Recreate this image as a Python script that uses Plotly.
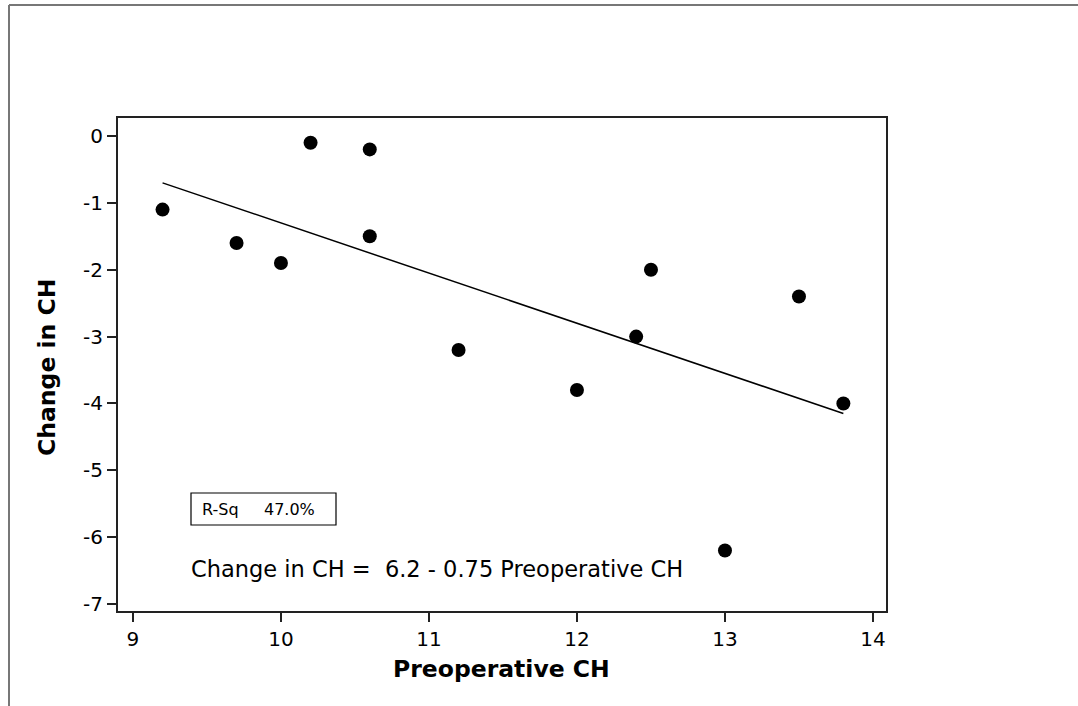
import plotly.graph_objects as go

# Data
pre_ch = [9.2, 9.7, 10.0, 10.2, 10.6, 10.6, 11.2, 12.0, 12.4, 12.5, 13.0, 13.5, 13.8]
change_ch = [-1.1, -1.6, -1.9, -0.1, -0.2, -1.5, -3.2, -3.8, -3.0, -2.0, -6.2, -2.4, -4.0]
fit_x = [9.2, 13.8]
fit_y = [-0.7, -4.15]
x_ticks = [9, 10, 11, 12, 13, 14]
y_ticks = [0, -1, -2, -3, -4, -5, -6, -7]
y_tick_labels = ["0", "-1", "-2", "-3", "-4", "-5", "-6", "-7"]

W, H = 1078, 706
L, R, T, B = 118, 192, 118, 95
pw, ph = W - L - R, H - T - B

def px(xp):
    return (xp - L) / pw

def py(yp):
    return 1 - (yp - T) / ph

fig = go.Figure()
fig.add_trace(go.Scatter(x=fit_x, y=fit_y, mode="lines",
                         line=dict(color="black", width=1.5), showlegend=False))
fig.add_trace(go.Scatter(x=pre_ch, y=change_ch, mode="markers",
                         marker=dict(color="black", size=14), showlegend=False))

tickfont = dict(family="DejaVu Sans", size=20, color="black")
fig.update_xaxes(range=[8.899, 14.088], tickvals=x_ticks, ticks="outside", ticklen=9,
                 tickwidth=1.5, tickcolor="#222", showline=True, linecolor="#222",
                 linewidth=2, mirror=True, showgrid=False, zeroline=False,
                 tickfont=tickfont)
fig.update_yaxes(range=[-7.105, 0.27], tickvals=y_ticks, ticktext=y_tick_labels,
                 ticks="outside", ticklen=9,
                 tickwidth=1.5, tickcolor="#222", showline=True, linecolor="#222",
                 linewidth=2, mirror=True, showgrid=False, zeroline=False,
                 tickfont=tickfont)

shapes = [
    # outer frame (top and left)
    dict(type="line", xref="paper", yref="paper", x0=px(9), y0=py(5), x1=px(W + 5), y1=py(5),
         line=dict(color="#777", width=2)),
    dict(type="line", xref="paper", yref="paper", x0=px(9), y0=py(5), x1=px(9), y1=py(H + 5),
         line=dict(color="#777", width=2)),
    # R-Sq box
    dict(type="rect", xref="paper", yref="paper", x0=px(191), x1=px(336), y0=py(525), y1=py(493),
         line=dict(color="black", width=1.2)),
]

annotations = [
    dict(text="R-Sq&nbsp;&nbsp;&nbsp;&nbsp;&nbsp;47.0%", xref="paper", yref="paper", x=px(200), y=py(509),
         xanchor="left", yanchor="middle", showarrow=False,
         font=dict(family="DejaVu Sans", size=16, color="black")),
    dict(text="Change in CH =&nbsp;&nbsp;6.2 - 0.75 Preoperative CH", xref="paper", yref="paper",
         x=px(189), y=py(569), xanchor="left", yanchor="middle", showarrow=False,
         font=dict(family="DejaVu Sans", size=22.5, color="black")),
    dict(text="<b>Preoperative CH</b>", xref="paper", yref="paper", x=px(501), y=py(669),
         xanchor="center", yanchor="middle", showarrow=False,
         font=dict(family="DejaVu Sans", size=23.5, color="black")),
    dict(text="<b>Change in CH</b>", xref="paper", yref="paper", x=px(47), y=py(368),
         xanchor="center", yanchor="middle", showarrow=False, textangle=-90,
         font=dict(family="DejaVu Sans", size=23.5, color="black")),
]

fig.update_layout(width=W, height=H, margin=dict(l=L, r=R, t=T, b=B),
                  paper_bgcolor="white", plot_bgcolor="white",
                  shapes=shapes, annotations=annotations)

fig.write_html("out.html", config={"displayModeBar": False},
               post_script="document.body.style.margin='0';document.body.style.overflow='hidden';")
